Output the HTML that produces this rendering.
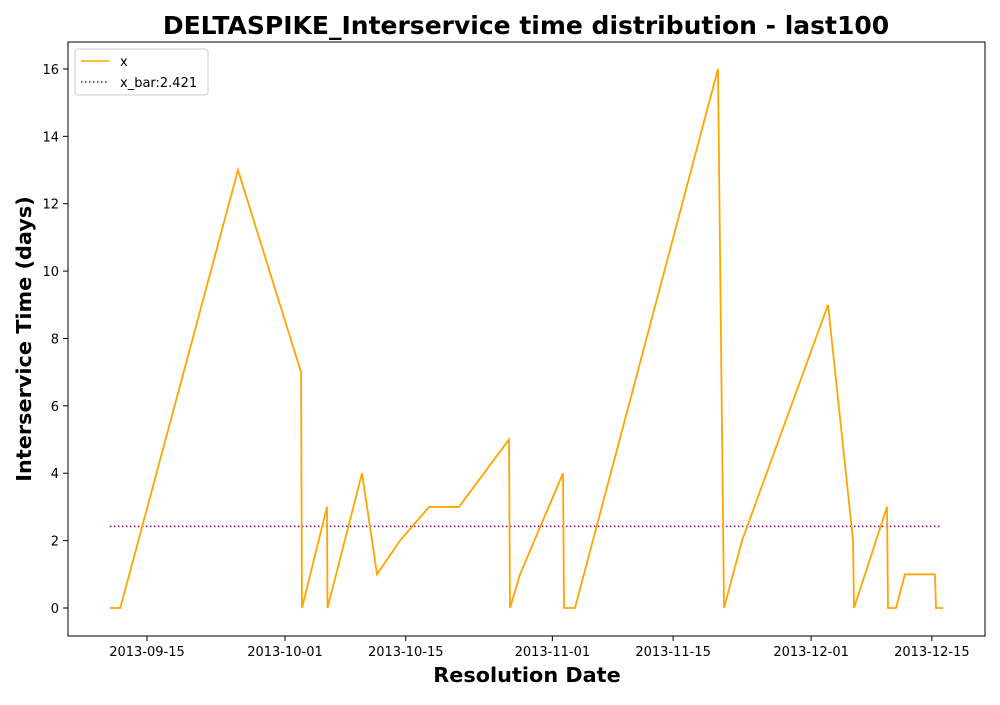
<!DOCTYPE html>
<html><head><meta charset="utf-8"><style>
body{margin:0;background:#fff;font-family:"Liberation Sans","DejaVu Sans",sans-serif}
svg text{font-family:"DejaVu Sans","Liberation Sans",sans-serif}
</style></head><body>
<svg id="chart" width="1000" height="700" xmlns="http://www.w3.org/2000/svg">
<rect width="1000" height="700" fill="#fff"/>
<text x="526" y="34" font-size="25" font-weight="bold" text-anchor="middle">DELTASPIKE_Interservice time distribution - last100</text>
<g id="plot"></g>
<rect x="68" y="42" width="917" height="594" fill="none" stroke="#000" stroke-width="1"/>
<text x="527" y="682" font-size="20.8" font-weight="bold" text-anchor="middle">Resolution Date</text>
<text transform="translate(31,339) rotate(-90)" font-size="20.8" font-weight="bold" text-anchor="middle">Interservice Time (days)</text>
<g>
<rect x="75" y="49" width="133" height="46" fill="#fff" stroke="#ccc" rx="3"/>
<line x1="81" y1="61" x2="109" y2="61" stroke="orange" stroke-width="1.5"/>
<text x="120" y="66" font-size="13">x</text>
<line x1="81" y1="82" x2="109" y2="82" stroke="purple" stroke-width="1.5" stroke-dasharray="1.5,2.5"/>
<text x="120" y="87" font-size="13">x_bar:2.421</text>
</g>
</svg>
<script>
// days since 2013-09-15
const xDays=[-4.3,-3.1,10.55,17.86,17.97,20.87,20.93,24.93,26.67,29.33,32.7,36.17,41.97,42.09,43.25,48.23,48.35,49.62,66.2,66.9,68.99,78.96,81.86,81.97,85.8,85.91,86.84,87.88,91.36,91.48,92.29];
const yVals=[0,0,13,7,0,3,0,4,1,2,3,3,5,0,1,4,0,0,16,0,2,9,2,0,3,0,0,1,1,0,0];
const meanVal=2.421;
const meanEndDay=91.95;
const xTickDays=[0,16,30,47,61,77,91];
const xTickLabels=["2013-09-15","2013-10-01","2013-10-15","2013-11-01","2013-11-15","2013-12-01","2013-12-15"];
const yTicks=[0,2,4,6,8,10,12,14,16];

const X=d=>147+d*8.625;
const Y=v=>608-v*33.69;
const NS="http://www.w3.org/2000/svg";
const g=document.getElementById('plot');
function mk(t,a){const e=document.createElementNS(NS,t);for(const k in a)e.setAttribute(k,a[k]);g.appendChild(e);return e;}
xTickDays.forEach((d,i)=>{
 const l=mk('line',{x1:X(d),x2:X(d),y1:636,y2:641,stroke:'#000'});
 
 
 const t=mk('text',{x:X(d),y:656,'font-size':13,'text-anchor':'middle'});
 t.textContent=xTickLabels[i];
 
 
});
yTicks.forEach(v=>{
 const l=mk('line',{x1:63,x2:68,y1:Y(v),y2:Y(v),stroke:'#000'});
 
 
 const t=mk('text',{x:59,y:Y(v)+5,'font-size':13,'text-anchor':'end'});
 t.textContent=v;
 
 
});
const m=mk('line',{x1:X(xDays[0]),x2:X(meanEndDay),y1:Y(meanVal),y2:Y(meanVal),stroke:'purple','stroke-width':1.5,'stroke-dasharray':'1.5,2.5'});


const p=mk('polyline',{points:xDays.map((d,i)=>X(d)+','+Y(yVals[i])).join(' '),fill:'none',stroke:'orange','stroke-width':1.8});


</script>
</body></html>
